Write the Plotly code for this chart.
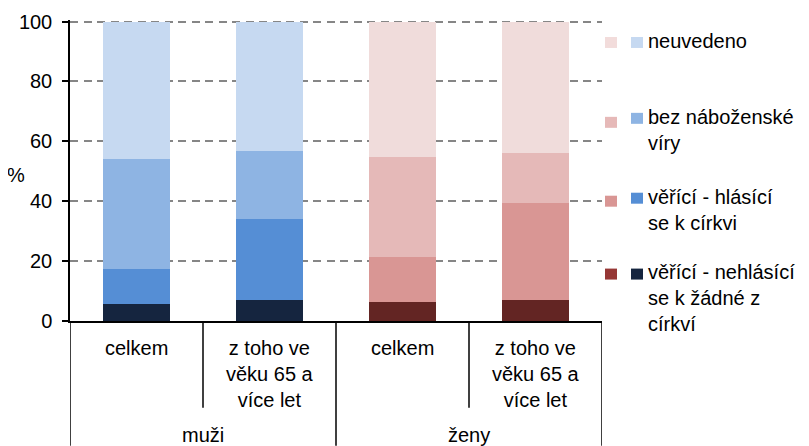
import plotly.graph_objects as go

# categories
groups = ["muži", "muži", "ženy", "ženy"]
subcats = ["celkem", "z toho ve<br>věku 65 a<br>více let", "celkem", "z toho ve<br>věku 65 a<br>více let"]
cat_keys = ["muži celkem", "muži 65+", "ženy celkem", "ženy 65+"]

# series (percent), bottom to top
nehlasici = [5.7, 7.0, 6.3, 7.0]
hlasici = [11.7, 27.1, 15.0, 32.3]
bez_viry = [36.6, 22.6, 33.4, 16.7]
neuvedeno = [46.0, 43.3, 45.3, 44.0]

series_names = ["věřící - nehlásící<br>se k žádné z<br>církví", "věřící - hlásící<br>se k církvi",
                "bez náboženské<br>víry", "neuvedeno"]
series_values = [nehlasici, hlasici, bez_viry, neuvedeno]
men_colors = ["#15253f", "#558ed5", "#8eb4e3", "#c6d9f1"]
women_colors = ["#632523", "#d99694", "#e5b9b8", "#f0dcdb"]
legend_women = ["#963735", "#d99694", "#e6b9b8", "#f2dcdb"]

FONT = "Liberation Sans, Arial, sans-serif"
FS = 20
OFF = 8  # page body margin
W, H = 809 - OFF, 446 - OFF
YMAX = 100.5
L, R, B = 70, 602, 321  # plot area in page pixels
T = B - 3 * YMAX  # 3 px per percent


def px(x):
    return (x - L) / (R - L)


def py(y):
    return (B - y) / (B - T)


fig = go.Figure()
for name, vals, mc, wc in zip(series_names, series_values, men_colors, women_colors):
    fig.add_trace(go.Bar(
        x=cat_keys, y=vals, name=name, width=0.51,
        marker=dict(color=[mc, mc, wc, wc], line=dict(width=0)),
        showlegend=False,
    ))

shapes = []
# vertical dividers below the axis
for xb, bottom in [(-0.5, 446), (0.5, 408), (1.5, 446), (2.5, 408), (3.5, 446)]:
    shapes.append(dict(type="line", xref="x", yref="paper", x0=xb, x1=xb,
                       y0=py(321), y1=py(bottom), line=dict(color="black", width=1.5)))

annotations = []
# category labels
for key, lab in zip(cat_keys, subcats):
    annotations.append(dict(x=key, xref="x", yref="paper", y=py(335), xanchor="center",
                            yanchor="top", text=lab, showarrow=False,
                            font=dict(size=FS, color="black")))
for xc, g in [(0.5, groups[0]), (2.5, groups[2])]:
    annotations.append(dict(x=xc, xref="x", yref="paper", y=py(435), xanchor="center",
                            yanchor="middle", text=g, showarrow=False,
                            font=dict(size=FS, color="black")))
# y title
annotations.append(dict(x=px(16), y=py(175), xref="paper", yref="paper", text="%",
                        xanchor="center", yanchor="middle", showarrow=False,
                        font=dict(size=FS, color="black")))

# legend built by hand (two markers per entry)
legend_rows = [(42, 42, 42), (122, 118, 118), (201, 198, 198), (274, 274, 273)]
for i, (yw, ym, yt) in enumerate(legend_rows):
    s = 3 - i
    for cx, cy, col in [(611, yw, legend_women[s]), (637, ym, men_colors[s])]:
        shapes.append(dict(type="rect", xref="paper", yref="paper",
                           x0=px(cx - 6), x1=px(cx + 6), y0=py(cy + 5.5), y1=py(cy - 5.5),
                           fillcolor=col, line=dict(width=0)))
    annotations.append(dict(x=px(646), y=py(yt - 14), xref="paper", yref="paper",
                            xanchor="left", yanchor="top", align="left",
                            text=series_names[s], showarrow=False,
                            font=dict(size=FS, color="black")))

fig.update_layout(
    barmode="stack",
    width=W, height=H,
    margin=dict(l=L - OFF, r=809 - R, t=T - OFF, b=446 - B),
    plot_bgcolor="white", paper_bgcolor="white",
    font=dict(family=FONT, size=FS, color="black"),
    shapes=shapes, annotations=annotations,
)
fig.update_xaxes(showticklabels=False, showline=True, linecolor="black", linewidth=2,
                 ticks="", showgrid=False, range=[-0.5, 3.5], automargin=False)
fig.update_yaxes(range=[0, YMAX], tickvals=[0, 20, 40, 60, 80, 100], ticks="outside",
                 ticklen=6, tickcolor="black", tickwidth=1.5, showline=True, linecolor="black",
                 linewidth=1.5, showgrid=True, gridcolor="#868686", gridwidth=2,
                 griddash="8px,5.5px", zeroline=False, ticklabelstandoff=6,
                 tickfont=dict(size=FS), automargin=False)

fig.write_html("out.html")
